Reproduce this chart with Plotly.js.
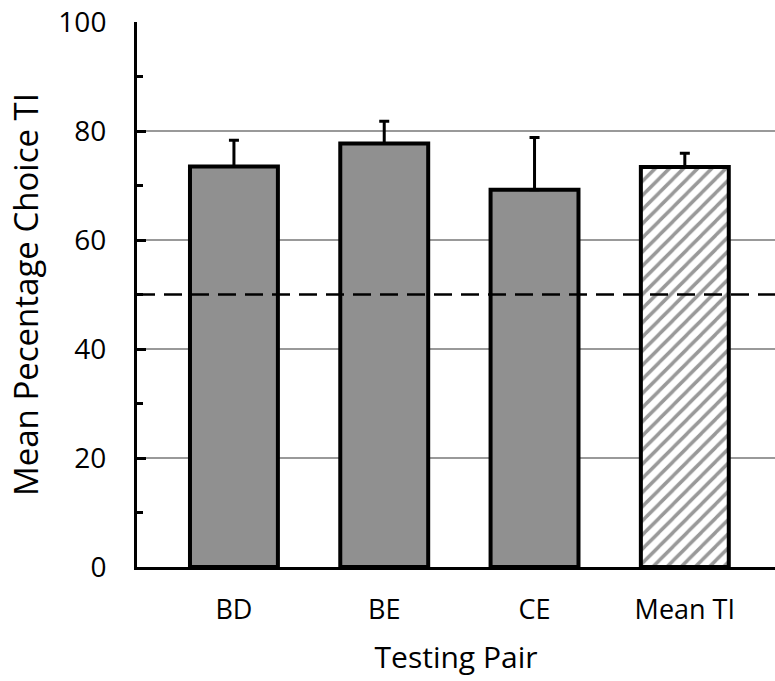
<!DOCTYPE html>
<html>
<head>
<meta charset="utf-8">
<script src="https://cdn.plot.ly/plotly-3.0.1.min.js"></script>
<style>html,body{margin:0;padding:0;background:#fff;}#chart{width:775px;height:681px;}</style>
</head>
<body>
<div id="chart"></div>
<script>
const categories = ['BD', 'BE', 'CE', 'Mean TI'];
const meanPct = [73.5, 77.7, 69.2, 73.4];
const errUp = [4.8, 4.1, 9.6, 2.5];
const patterns = ['', '', '', '/'];
const chanceLevel = 50;

const FONT = 'Open Sans';

const trace = {
  type: 'bar',
  x: categories,
  y: meanPct,
  width: 0.585,
  marker: {
    color: '#909090',
    line: {color: '#000', width: 4},
    pattern: {shape: patterns, fgcolor: '#999999', bgcolor: '#ffffff', size: 10, solidity: 0.35}
  },
  error_y: {type: 'data', symmetric: false, array: errUp, arrayminus: [0,0,0,0], color: '#000', thickness: 3, width: 5},
  hoverinfo: 'none'
};

const layout = {
  width: 775, height: 681,
  margin: {l: 137, r: 0, t: 22, b: 114},
  paper_bgcolor: '#fff', plot_bgcolor: '#fff',
  showlegend: false,
  font: {family: FONT, color: '#000'},
  xaxis: {
    type: 'category',
    range: [-0.645, 3.6],
    showline: true, linecolor: '#000', linewidth: 3,
    ticks: '', showgrid: false, zeroline: false,
    tickfont: {size: 27, family: FONT},
    ticklabelstandoff: 17,
    title: {text: 'Testing Pair', font: {size: 30, family: FONT}, standoff: 21}
  },
  yaxis: {
    range: [0, 100], dtick: 20, tick0: 0,
    showline: true, linecolor: '#000', linewidth: 3,
    ticks: 'inside', ticklen: 9, tickwidth: 3, tickcolor: '#000',
    minor: {dtick: 10, ticks: 'inside', ticklen: 6, tickwidth: 3, tickcolor: '#000', showgrid: false},
    showgrid: true, gridcolor: '#999999', gridwidth: 1.5,
    zeroline: false,
    tickfont: {size: 28, family: FONT},
    ticklabelstandoff: 22,
    title: {text: 'Mean Pecentage Choice TI', font: {size: 33, family: FONT}, standoff: 10}
  },
  shapes: [{
    type: 'line', xref: 'paper', yref: 'y', x0: 0, x1: 1, y0: chanceLevel, y1: chanceLevel,
    line: {color: '#000', width: 2.5, dash: '18px,9px'}, layer: 'above'
  }]
};

Plotly.newPlot('chart', [trace], layout, {displayModeBar: false, staticPlot: true});
</script>
</body>
</html>
